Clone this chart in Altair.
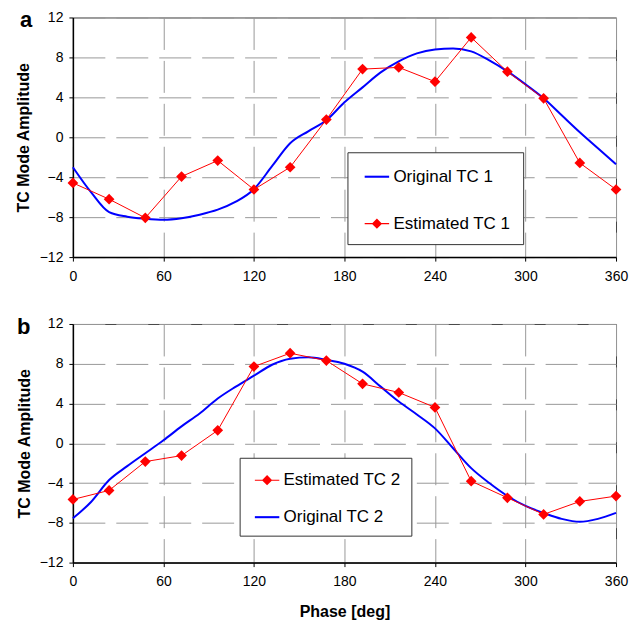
import altair as alt
import pandas as pd

# ---------------- data ----------------
phase_est = [0, 24, 48, 72, 96, 120, 144, 168, 192, 216, 240, 264, 288, 312, 336, 360]
phase_orig = [0, 12, 24, 36, 48, 60, 72, 84, 96, 108, 120, 132, 144, 156, 168, 180,
              192, 204, 216, 228, 240, 252, 264, 276, 288, 300, 312, 324, 336, 348, 360]

est_tc1 = [-4.57, -6.2, -8.07, -3.93, -2.33, -5.23, -3.0, 1.77, 6.83, 7.0, 5.57, 10.0,
           6.57, 3.9, -2.57, -5.23]
orig_tc1 = [-3.0, -5.5, -7.5, -7.95, -8.15, -8.25, -8.1, -7.75, -7.25, -6.45, -5.2, -2.9,
            -0.6, 0.6, 1.7, 3.5, 5.0, 6.5, 7.6, 8.4, 8.8, 8.9, 8.6, 7.7, 6.6, 5.3, 3.9,
            2.2, 0.5, -1.1, -2.7]

est_tc2 = [-5.65, -4.74, -1.84, -1.24, 1.3, 7.72, 9.06, 8.32, 5.98, 5.11, 3.61, -3.81,
           -5.48, -7.15, -5.85, -5.31]
orig_tc2 = [-7.55, -5.9, -3.7, -2.3, -1.0, 0.3, 1.7, 3.0, 4.5, 5.7, 6.8, 7.9, 8.5, 8.65,
            8.4, 8.0, 7.2, 5.7, 4.2, 2.9, 1.5, -0.5, -2.5, -4.0, -5.3, -6.3, -7.0, -7.6,
            -7.9, -7.6, -7.0]

x_ticks = [0, 60, 120, 180, 240, 300, 360]
y_ticks = [-12, -8, -4, 0, 4, 8, 12]
panel_labels = ["a", "b"]

BLUE = "#0000ff"
RED = "#ff0000"
FONT = "Liberation Sans"

LINE_PATH = "M-1,-0.085H1V0.085H-1Z"
DIAMOND_PATH = "M-1,-0.045H1V0.045H-1ZM-0.42,0L0,-0.42L0.42,0L0,0.42Z"


def panel(label, orig_y, est_y, orig_name, est_name, order, width, height,
          lx, ly, row_pad, pad, y_title_pad, x_title, label_dx, label_dy):
    orig_df = pd.DataFrame({"phase": phase_orig, "amp": orig_y, "series": orig_name})
    est_df = pd.DataFrame({"phase": phase_est, "amp": est_y, "series": est_name})
    all_df = pd.concat([orig_df, est_df], ignore_index=True)

    colors = [BLUE if s == orig_name else RED for s in order]
    paths = [LINE_PATH if s == orig_name else DIAMOND_PATH for s in order]

    xenc = alt.X("phase:Q", scale=alt.Scale(domain=[0, 360], nice=False),
                 axis=alt.Axis(values=x_ticks, title=x_title, labelPadding=8,
                               labelFlush=False, titlePadding=15))
    yenc = alt.Y("amp:Q", scale=alt.Scale(domain=[-12, 12], nice=False),
                 axis=alt.Axis(values=y_ticks, title="TC Mode Amplitude",
                               labelFlush=False, labelPadding=6,
                               titlePadding=y_title_pad))

    blue = alt.Chart(orig_df).mark_line(color=BLUE, strokeWidth=2,
                                         interpolate="monotone").encode(x=xenc, y=yenc)
    red = alt.Chart(est_df).mark_line(color=RED, strokeWidth=1).encode(x=xenc, y=yenc)
    pts = alt.Chart(est_df).mark_point(shape="diamond", filled=True, size=115,
                                        color=RED, opacity=1).encode(x=xenc, y=yenc)

    leg = dict(title=None, orient="none", legendX=lx, legendY=ly,
               strokeColor="#333333", fillColor="white", padding=pad,
               rowPadding=row_pad, symbolSize=600, symbolStrokeWidth=0,
               symbolOpacity=1, labelFontSize=17, labelFont=FONT,
               labelColor="black", labelOffset=4, symbolOffset=5, labelLimit=300)
    dummy = alt.Chart(all_df).mark_point(opacity=0, filled=True).encode(
        x=xenc, y=yenc,
        color=alt.Color("series:N", scale=alt.Scale(domain=order, range=colors),
                        legend=alt.Legend(**leg)),
        shape=alt.Shape("series:N", scale=alt.Scale(domain=order, range=paths),
                        legend=alt.Legend(**leg)),
    )

    txt = alt.Chart(pd.DataFrame({"t": [label]})).mark_text(
        font=FONT, fontSize=22, fontWeight="bold", align="left",
        baseline="alphabetic", color="black"
    ).encode(text="t:N", x=alt.value(label_dx), y=alt.value(label_dy))

    return alt.layer(dummy, blue, red, pts, txt).properties(width=width, height=height)


pa = panel(panel_labels[0], orig_tc1, est_tc1, "Original TC 1", "Estimated TC 1",
           ["Original TC 1", "Estimated TC 1"], 544, 240,
           275, 135, 26, 12, 8, None, -53, 10)
pb = panel(panel_labels[1], orig_tc2, est_tc2, "Original TC 2", "Estimated TC 2",
           ["Estimated TC 2", "Original TC 2"], 544, 239,
           167, 134, 16, 10, 7, "Phase [deg]", -56, 10)

chart = alt.vconcat(pa, pb, spacing=31).resolve_scale(
    color="independent", shape="independent"
).properties(
    padding={"left": 6, "top": 0, "right": 0, "bottom": 0}
).configure_view(
    stroke="#444444", strokeWidth=1
).configure_axis(
    labelFont=FONT, labelFontSize=14, labelColor="black",
    titleFont=FONT, titleFontSize=16, titleFontWeight="bold", titleColor="black",
    domainColor="black", domainWidth=1.5, tickColor="black", tickSize=4,
    gridColor="#999999", gridDash=[32, 11], gridWidth=1,
)

chart.save("out.html", embed_options={"renderer": "svg", "actions": False})
